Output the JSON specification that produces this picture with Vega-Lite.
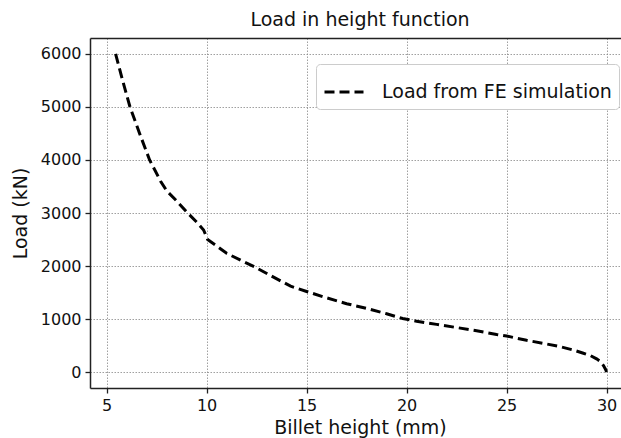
{
  "$schema": "https://vega.github.io/schema/vega-lite/v6.json",
  "autosize": "none",
  "padding": {"left": 90, "top": 38, "right": 0, "bottom": 50},
  "width": 540,
  "height": 350,
  "title": {"text": "Load in height function", "fontSize": 19, "fontWeight": "normal", "font": "DejaVu Sans", "color": "#111", "offset": 8, "anchor": "middle", "frame": "group", "dx": 0},
  "config": {
    "font": "DejaVu Sans",
    "view": {"stroke": null},
    "axis": {
      "gridColor": "#888", "gridDash": [1.5, 1.5], "gridWidth": 1, "gridOpacity": 0.8,
      "domainColor": "#222", "domainWidth": 1.5, "tickColor": "#222", "tickSize": 5, "tickWidth": 1.3,
      "labelFontSize": 16, "labelColor": "#111", "titleFontSize": 19, "titleFontWeight": "normal", "titleColor": "#111", "format": "d"
    }
  },
  "data": {"values": [
    {"h": 5.45, "load": 6000, "series": "Load from FE simulation"},
    {"h": 5.8, "load": 5500, "series": "Load from FE simulation"},
    {"h": 6.17, "load": 5000, "series": "Load from FE simulation"},
    {"h": 6.65, "load": 4500, "series": "Load from FE simulation"},
    {"h": 7.15, "load": 4000, "series": "Load from FE simulation"},
    {"h": 7.7, "load": 3600, "series": "Load from FE simulation"},
    {"h": 8.0, "load": 3420, "series": "Load from FE simulation"},
    {"h": 8.5, "load": 3230, "series": "Load from FE simulation"},
    {"h": 9.0, "load": 3020, "series": "Load from FE simulation"},
    {"h": 9.5, "load": 2830, "series": "Load from FE simulation"},
    {"h": 9.85, "load": 2680, "series": "Load from FE simulation"},
    {"h": 10.05, "load": 2500, "series": "Load from FE simulation"},
    {"h": 10.5, "load": 2380, "series": "Load from FE simulation"},
    {"h": 11.0, "load": 2240, "series": "Load from FE simulation"},
    {"h": 11.7, "load": 2110, "series": "Load from FE simulation"},
    {"h": 12.4, "load": 1985, "series": "Load from FE simulation"},
    {"h": 13.2, "load": 1820, "series": "Load from FE simulation"},
    {"h": 14.2, "load": 1620, "series": "Load from FE simulation"},
    {"h": 15.0, "load": 1520, "series": "Load from FE simulation"},
    {"h": 16.0, "load": 1400, "series": "Load from FE simulation"},
    {"h": 17.0, "load": 1290, "series": "Load from FE simulation"},
    {"h": 18.0, "load": 1200, "series": "Load from FE simulation"},
    {"h": 19.0, "load": 1100, "series": "Load from FE simulation"},
    {"h": 19.8, "load": 1010, "series": "Load from FE simulation"},
    {"h": 20.5, "load": 960, "series": "Load from FE simulation"},
    {"h": 21.5, "load": 900, "series": "Load from FE simulation"},
    {"h": 22.5, "load": 840, "series": "Load from FE simulation"},
    {"h": 23.5, "load": 780, "series": "Load from FE simulation"},
    {"h": 24.5, "load": 710, "series": "Load from FE simulation"},
    {"h": 25.0, "load": 680, "series": "Load from FE simulation"},
    {"h": 26.0, "load": 600, "series": "Load from FE simulation"},
    {"h": 27.0, "load": 530, "series": "Load from FE simulation"},
    {"h": 27.7, "load": 478, "series": "Load from FE simulation"},
    {"h": 28.3, "load": 420, "series": "Load from FE simulation"},
    {"h": 28.8, "load": 360, "series": "Load from FE simulation"},
    {"h": 29.2, "load": 310, "series": "Load from FE simulation"},
    {"h": 29.5, "load": 250, "series": "Load from FE simulation"},
    {"h": 29.7, "load": 195, "series": "Load from FE simulation"},
    {"h": 29.85, "load": 120, "series": "Load from FE simulation"},
    {"h": 29.95, "load": 50, "series": "Load from FE simulation"},
    {"h": 30.0, "load": 0, "series": "Load from FE simulation"}
  ]},
  "resolve": {"axis": {"x": "independent"}},
  "layer": [
    {
      "mark": {"type": "line", "strokeWidth": 3, "strokeDash": [10, 5], "clip": true},
      "encoding": {
        "x": {"field": "h", "type": "quantitative", "title": "Billet height (mm)",
          "scale": {"domain": [4.17, 31.17], "nice": false, "zero": false},
          "axis": {"orient": "bottom", "grid": true, "values": [5, 10, 15, 20, 25, 30], "labelPadding": 4, "titlePadding": 5}},
        "y": {"field": "load", "type": "quantitative", "title": "Load (kN)",
          "scale": {"domain": [-300, 6300], "nice": false, "zero": false},
          "axis": {"grid": true, "values": [0, 1000, 2000, 3000, 4000, 5000, 6000], "labelPadding": 4, "titlePadding": 10}},
        "color": {"field": "series", "type": "nominal", "scale": {"range": ["black"]},
          "legend": {"title": null, "orient": "none", "legendX": 226, "legendY": 26,
            "symbolType": "stroke", "symbolSize": 1521, "symbolStrokeWidth": 3, "symbolDash": [10, 5],
            "labelFontSize": 19, "labelColor": "#111", "labelOffset": 17, "labelLimit": 400,
            "padding": 7, "cornerRadius": 4, "strokeColor": "#ccc", "fillColor": "white"}}
      }
    },
    {
      "mark": {"type": "line", "strokeOpacity": 0},
      "encoding": {
        "x": {"field": "h", "type": "quantitative",
          "scale": {"domain": [4.17, 31.17], "nice": false, "zero": false},
          "axis": {"orient": "top", "labels": false, "ticks": false, "grid": false, "title": null}},
        "y": {"field": "load", "type": "quantitative",
          "scale": {"domain": [-300, 6300], "nice": false, "zero": false}}
      }
    }
  ]
}
